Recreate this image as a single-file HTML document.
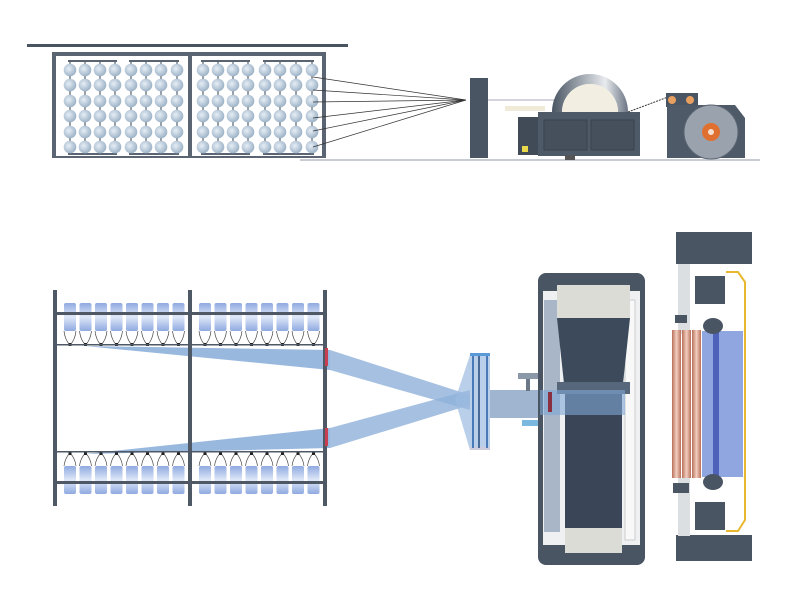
<!DOCTYPE html>
<html><head><meta charset="utf-8"><style>html,body{margin:0;padding:0;background:#fff}svg{display:block}</style></head>
<body>
<svg id="s" width="800" height="600" viewBox="0 0 800 600" xmlns="http://www.w3.org/2000/svg">
<defs>
<radialGradient id="bb" cx="0.4" cy="0.4" r="0.6"><stop offset="0" stop-color="#e6eef6"/><stop offset="1" stop-color="#9fb4c8"/></radialGradient>
<linearGradient id="bob" x1="0" y1="0" x2="0" y2="1"><stop offset="0" stop-color="#8fa9e0"/><stop offset="0.5" stop-color="#dfe8f8"/><stop offset="1" stop-color="#8fa9e0"/></linearGradient>
<linearGradient id="arch" x1="0" y1="0" x2="1" y2="0"><stop offset="0" stop-color="#4a5563"/><stop offset="0.7" stop-color="#e8ebef"/><stop offset="1" stop-color="#6a7482"/></linearGradient>
<linearGradient id="cu" x1="0" y1="0" x2="1" y2="0"><stop offset="0" stop-color="#b8705a"/><stop offset="0.5" stop-color="#f3cfc0"/><stop offset="1" stop-color="#b8705a"/></linearGradient>
</defs>
<!-- TOP CREEL -->
<rect x="27" y="44" width="321" height="3" fill="#4a5360"/>
<rect x="52" y="52" width="274" height="4" fill="#5a6472"/>
<rect x="52" y="52" width="4" height="106" fill="#5a6472"/>
<rect x="188" y="52" width="4" height="106" fill="#5a6472"/>
<rect x="322" y="52" width="4" height="106" fill="#5a6472"/>
<rect x="52" y="156" width="274" height="2" fill="#5a6472"/>
<g id="topb"></g>
<g stroke="#333" stroke-width="0.7">
<line x1="313" y1="77" x2="466" y2="100"/><line x1="313" y1="90" x2="466" y2="100"/><line x1="313" y1="102" x2="466" y2="100"/>
<line x1="313" y1="118" x2="466" y2="100"/><line x1="313" y1="131" x2="466" y2="100"/><line x1="313" y1="147" x2="466" y2="100"/>
</g>
<line x1="300" y1="160" x2="760" y2="160" stroke="#c8ccd2" stroke-width="2"/>
<!-- machines top -->
<rect x="470" y="78" width="18" height="80" fill="#4a5563"/>
<line x1="488" y1="100" x2="555" y2="100" stroke="#aab" stroke-width="1"/>
<rect x="505" y="106" width="40" height="5" fill="#f0ead8"/>
<path d="M552 112 A38 38 0 0 1 628 112 L618 112 A28 28 0 0 0 562 112 Z" fill="url(#arch)"/>
<path d="M562 112 A28 28 0 0 1 618 112 Z" fill="#f2efe2"/>
<rect x="518" y="117" width="22" height="38" fill="#414b58"/>
<rect x="522" y="146" width="6" height="6" fill="#e8d84a"/>
<rect x="538" y="112" width="102" height="44" fill="#4f5a68"/>
<rect x="544" y="120" width="43" height="30" fill="#46505d" stroke="#3a434e"/>
<rect x="591" y="120" width="43" height="30" fill="#46505d" stroke="#3a434e"/>
<rect x="565" y="155" width="10" height="5" fill="#555"/>
<line x1="628" y1="112" x2="668" y2="97" stroke="#333" stroke-dasharray="2,1"/>
<rect x="666" y="93" width="32" height="14" fill="#4a5563"/>
<circle cx="672" cy="100" r="4" fill="#e8a060"/><circle cx="690" cy="100" r="4" fill="#e8a060"/>
<path d="M667 105 H735 L745 118 V158 H667 Z" fill="#4f5a68"/>
<circle cx="711" cy="132" r="27" fill="#9aa2ad" stroke="#5a6472"/>
<circle cx="711" cy="132" r="9" fill="#e07030"/>
<circle cx="711" cy="132" r="3" fill="#f4e0d0"/>
<!-- BOTTOM CREEL -->
<polygon points="85,346 325,348 325,368 470,395 470,405 325,345" fill="none"/>
<polygon points="85,346 330,350 330,370" fill="#7fa6d6" opacity="0.8"/>
<polygon points="85,454 330,428 330,448" fill="#7fa6d6" opacity="0.8"/>
<polygon points="330,350 330,370 470,410 470,395" fill="#8fb0da" opacity="0.8"/>
<polygon points="330,428 330,448 470,405 470,390" fill="#8fb0da" opacity="0.8"/>
<polygon points="455,400 470,355 490,355 490,450 470,450" fill="#9cbbe0" opacity="0.7"/>
<rect x="490" y="390" width="60" height="28" fill="#8fa8c8" opacity="0.85"/>
<g id="botb"></g>
<rect x="53" y="290" width="4" height="216" fill="#4f5966"/>
<rect x="188" y="290" width="4" height="216" fill="#4f5966"/>
<rect x="323" y="290" width="4" height="216" fill="#4f5966"/>
<rect x="325" y="348" width="3" height="18" fill="#c84050"/>
<rect x="325" y="428" width="3" height="18" fill="#c84050"/>
<!-- reed -->
<rect x="470" y="353" width="20" height="3" fill="#5a9ad8"/>
<rect x="470" y="447" width="20" height="3" fill="#ccd"/>
<rect x="472" y="356" width="2" height="92" fill="#4a7ab8"/><rect x="478" y="356" width="2" height="92" fill="#4a6a98"/><rect x="486" y="356" width="2" height="92" fill="#4a7ab8"/>
<rect x="518" y="373" width="22" height="6" fill="#8a98a8"/><rect x="526" y="379" width="4" height="12" fill="#6a7888"/>
<rect x="522" y="420" width="16" height="6" fill="#7ab8e0"/>
<!-- central unit -->
<rect x="538" y="273" width="107" height="292" rx="8" fill="#4a5563"/>
<rect x="543" y="291" width="97" height="254" fill="#eef0f2"/>
<rect x="544" y="300" width="16" height="232" fill="#a8b6c8"/>
<rect x="625" y="300" width="10" height="240" fill="#f8f8f8" stroke="#ccc"/>
<path d="M557 285 H630 V318 H557 Z" fill="#dcdcd6"/>
<path d="M557 318 H630 L622 393 H565 Z" fill="#3c4a5c"/>
<rect x="565" y="393" width="57" height="140" fill="#3a4658"/>
<rect x="557" y="382" width="73" height="12" fill="#56677c"/>
<rect x="540" y="390" width="85" height="25" fill="#7fa6d6" opacity="0.6"/>
<rect x="548" y="392" width="4" height="20" fill="#8a3040"/>
<path d="M565 528 H622 V553 H565 Z" fill="#dcdcd6"/>
<!-- right unit -->
<rect x="676" y="232" width="76" height="32" fill="#4a5563"/>
<rect x="676" y="535" width="76" height="26" fill="#4a5563"/>
<rect x="678" y="264" width="12" height="70" fill="#dcdfe2"/>
<rect x="678" y="478" width="12" height="58" fill="#dcdfe2"/>
<rect x="695" y="276" width="30" height="28" fill="#4a5563"/>
<rect x="695" y="502" width="30" height="28" fill="#4a5563"/>
<rect x="675" y="315" width="12" height="8" fill="#4a5563"/>
<rect x="673" y="483" width="16" height="10" fill="#4a5563"/>
<rect x="672" y="330" width="9" height="148" fill="url(#cu)"/>
<rect x="682" y="330" width="9" height="148" fill="url(#cu)"/>
<rect x="692" y="330" width="9" height="148" fill="url(#cu)"/>
<rect x="702" y="331" width="41" height="146" fill="#8fa6e0"/>
<rect x="713" y="331" width="6" height="146" fill="#4d62b8"/>
<ellipse cx="713" cy="326" rx="10" ry="8" fill="#4a5563"/>
<ellipse cx="713" cy="482" rx="10" ry="8" fill="#4a5563"/>
<path d="M726 272 H738 L745 282 V520 L738 531 H726" fill="none" stroke="#e8b830" stroke-width="2"/>
</svg>
<script>
var NS="http://www.w3.org/2000/svg";
function el(p,t,a){var e=document.createElementNS(NS,t);for(var k in a)e.setAttribute(k,a[k]);p.appendChild(e);return e;}
var tb=document.getElementById("topb");
var ys=[70,85,101,116,132,147];
[[70,85,100,115,131,146,161,177],[203,218,233,248,265,280,296,312]].forEach(function(xs){
 el(tb,"rect",{x:xs[0]-2,y:60,width:xs[3]-xs[0]+4,height:2,fill:"#5a6472"});
 el(tb,"rect",{x:xs[4]-2,y:60,width:xs[7]-xs[4]+4,height:2,fill:"#5a6472"});
 el(tb,"rect",{x:xs[0]-2,y:153,width:xs[3]-xs[0]+4,height:2,fill:"#5a6472"});
 el(tb,"rect",{x:xs[4]-2,y:153,width:xs[7]-xs[4]+4,height:2,fill:"#5a6472"});
 xs.forEach(function(x){el(tb,"rect",{x:x-0.7,y:62,width:1.4,height:91,fill:"#6a7480"});
  ys.forEach(function(y){el(tb,"circle",{cx:x,cy:y,r:6.3,fill:"url(#bb)"});});});
});
var bb=document.getElementById("botb");
var xs=[];for(var i=0;i<8;i++)xs.push(70+i*15.5);for(var i=0;i<8;i++)xs.push(205+i*15.5);
xs.forEach(function(x){
 el(bb,"rect",{x:x-6,y:303,width:12,height:28,rx:2,fill:"url(#bob)"});
 el(bb,"rect",{x:x-6,y:466,width:12,height:28,rx:2,fill:"url(#bob)"});
 el(bb,"path",{d:"M"+(x-6)+" 331 Q"+(x-5)+" 340 "+x+" 345 Q"+(x+5)+" 340 "+(x+6)+" 331",fill:"none",stroke:"#444","stroke-width":0.7});
 el(bb,"path",{d:"M"+(x-6)+" 466 Q"+(x-5)+" 458 "+x+" 453 Q"+(x+5)+" 458 "+(x+6)+" 466",fill:"none",stroke:"#444","stroke-width":0.7});
 el(bb,"rect",{x:x-1.5,y:343,width:3,height:3,fill:"#222"});
 el(bb,"rect",{x:x-1.5,y:452,width:3,height:3,fill:"#222"});
});
[313,345,452,482].forEach(function(y){el(bb,"rect",{x:55,y:y-1,width:270,height:y==313||y==482?3:1.5,fill:"#4f5966"});});
</script>
</body></html>
